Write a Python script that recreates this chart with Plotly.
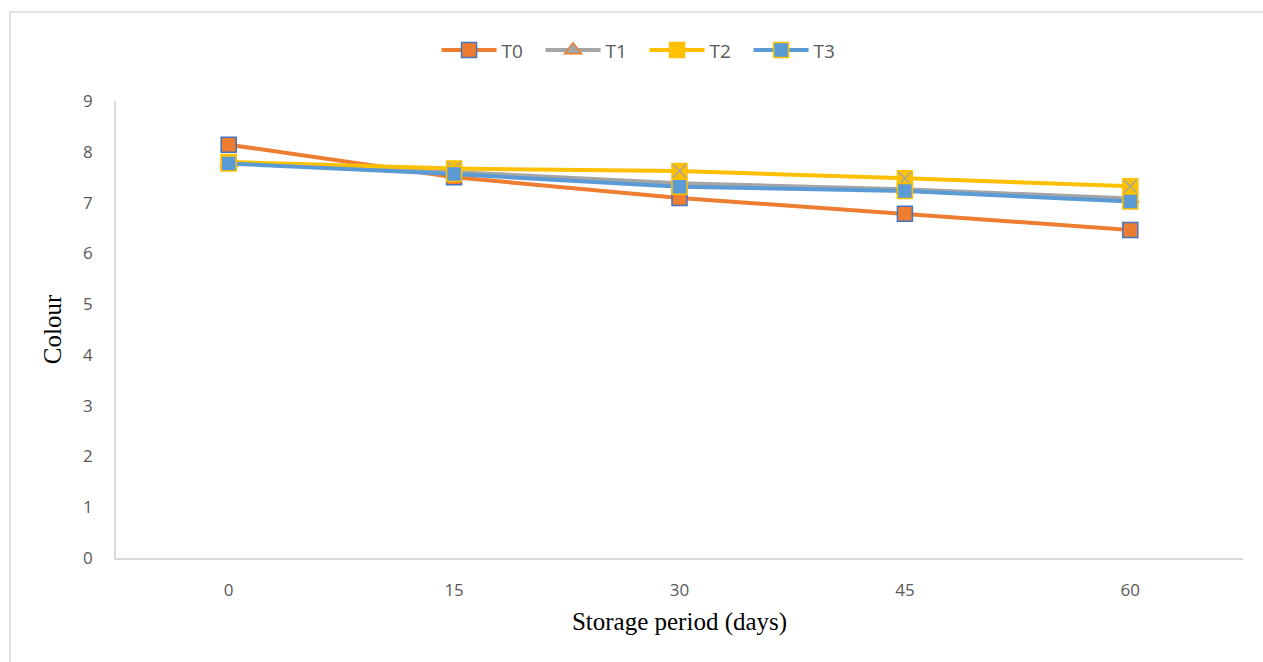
import plotly.graph_objects as go

# Storage period (days) and sensory colour scores for each treatment
days = ["0", "15", "30", "45", "60"]
t0 = [8.14, 7.50, 7.09, 6.78, 6.46]
t1 = [7.78, 7.60, 7.38, 7.26, 7.08]
t2 = [7.80, 7.67, 7.62, 7.48, 7.32]
t3 = [7.77, 7.56, 7.31, 7.23, 7.02]
y_ticks = [0, 1, 2, 3, 4, 5, 6, 7, 8, 9]

ORANGE = "#ED7D31"
GRAY = "#A5A5A5"
YELLOW = "#FFC000"
BLUE = "#5B9BD5"
DARKBLUE = "#4472C4"

fig = go.Figure()

fig.add_trace(go.Scatter(
    x=days, y=t0, name="T0", mode="lines+markers",
    line=dict(color=ORANGE, width=4),
    marker=dict(symbol="square", size=15, color=ORANGE,
                line=dict(color=DARKBLUE, width=1.5)),
))
fig.add_trace(go.Scatter(
    x=days, y=t1, name="T1", mode="lines+markers",
    line=dict(color=GRAY, width=4),
    marker=dict(symbol="triangle-up", size=15, color=GRAY,
                line=dict(color=ORANGE, width=1.5)),
))
fig.add_trace(go.Scatter(
    x=days, y=t2, name="T2", mode="lines+markers", legendgroup="T2",
    line=dict(color=YELLOW, width=4),
    marker=dict(symbol="square", size=15, color=YELLOW,
                line=dict(color=YELLOW, width=1.5)),
))
# grey cross drawn inside the T2 markers
fig.add_trace(go.Scatter(
    x=days, y=t2, name="T2", mode="markers", legendgroup="T2", showlegend=False,
    marker=dict(symbol="x-thin-open", size=13, color=GRAY,
                line=dict(color=GRAY, width=1.5)),
    hoverinfo="skip",
))
fig.add_trace(go.Scatter(
    x=days, y=t3, name="T3", mode="lines+markers",
    line=dict(color=BLUE, width=4),
    marker=dict(symbol="square", size=15, color=BLUE,
                line=dict(color=YELLOW, width=1.5)),
))

# outer chart frame
fig.add_shape(type="rect", xref="paper", yref="paper",
              x0=-0.094, x1=1.2, y0=-0.4, y1=1.195,
              line=dict(color="#D9D9D9", width=1.5), fillcolor="rgba(0,0,0,0)",
              layer="below")

fig.update_layout(
    width=1263, height=662,
    margin=dict(l=116, r=20, t=101, b=104),
    paper_bgcolor="white", plot_bgcolor="white",
    showlegend=True,
    legend=dict(orientation="h", x=0.469, y=1.111, xanchor="center", yanchor="middle",
                font=dict(family="Open Sans", size=19, color="#595959"),
                itemwidth=55, entrywidth=34, entrywidthmode="pixels",
                traceorder="normal"),
    xaxis=dict(
        type="category", range=[-0.5, 4.5],
        showgrid=False, showline=True, linecolor="#D9D9D9", linewidth=1.5,
        ticks="", ticklabelstandoff=16,
        tickfont=dict(family="Open Sans", size=17, color="#595959"),
        title=dict(text="Storage period (days)", standoff=12,
                   font=dict(family="Liberation Serif", size=25, color="black")),
    ),
    yaxis=dict(
        range=[0, 9], tickvals=y_ticks, showgrid=False, zeroline=False,
        showline=True, linecolor="#D9D9D9", linewidth=1.5,
        ticks="", ticklabelstandoff=18,
        tickfont=dict(family="Open Sans", size=17, color="#595959"),
        title=dict(text="Colour", standoff=14,
                   font=dict(family="Liberation Serif", size=25, color="black")),
    ),
)

fig.write_html("out.html")
